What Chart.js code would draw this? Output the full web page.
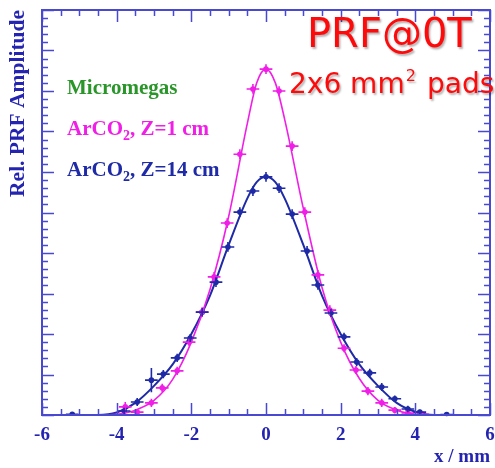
<!DOCTYPE html>
<html>
<head>
<meta charset="utf-8">
<script src="https://cdn.jsdelivr.net/npm/chart.js@4.4.0/dist/chart.umd.min.js"></script>
<style>
  html, body { margin: 0; padding: 0; background: #fff; }
  #grafico { display: block; }
</style>
</head>
<body>
<canvas id="grafico" width="495" height="468"></canvas>
<script>
// pontos medidos - ArCO2, Z = 1 cm
var xRosa = [-3.77, -3.45, -3.07, -2.78, -2.38, -2.06, -1.71, -1.39, -1.04, -0.70, -0.35, 0, 0.35, 0.70, 1.04, 1.39, 1.71, 2.09, 2.41, 2.73, 3.10, 3.45, 3.80, 4.20];
var yRosa = [0.020, 0.007, 0.030, 0.067, 0.109, 0.180, 0.254, 0.341, 0.474, 0.644, 0.805, 0.854, 0.800, 0.664, 0.501, 0.346, 0.259, 0.165, 0.111, 0.059, 0.030, 0.012, 0.005, 0.002];
var eyRosa = [0.012, 0.008, 0.01, 0.01, 0.01, 0.01, 0.012, 0.012, 0.012, 0.012, 0.012, 0.012, 0.012, 0.012, 0.012, 0.012, 0.012, 0.01, 0.01, 0.01, 0.01, 0.008, 0.006, 0.004];

// pontos medidos - ArCO2, Z = 14 cm
var xAzul = [-5.19, -3.80, -3.45, -3.07, -2.75, -2.38, -2.03, -1.71, -1.34, -1.02, -0.70, -0.35, 0, 0.35, 0.70, 1.10, 1.39, 1.74, 2.09, 2.43, 2.78, 3.10, 3.45, 3.80, 4.12, 4.84];
var yAzul = [0.002, 0.010, 0.032, 0.086, 0.101, 0.141, 0.190, 0.254, 0.328, 0.415, 0.501, 0.553, 0.588, 0.560, 0.496, 0.405, 0.321, 0.252, 0.193, 0.131, 0.104, 0.069, 0.040, 0.015, 0.007, 0.001];
var eyAzul = [0.004, 0.008, 0.01, 0.03, 0.01, 0.01, 0.01, 0.01, 0.012, 0.012, 0.012, 0.012, 0.012, 0.012, 0.012, 0.012, 0.012, 0.01, 0.01, 0.01, 0.01, 0.01, 0.008, 0.008, 0.006, 0.004];
var erroX = 0.17;

// curvas ajustadas
var xAjuste = [-6, -4.5, -4, -3.5, -3, -2.5, -2, -1.5, -1, -0.5, -0.25, 0, 0.25, 0.5, 1, 1.5, 2, 2.5, 3, 3.5, 4, 4.5, 6];
var ajusteRosa = [0, 0, 0.002, 0.012, 0.036, 0.088, 0.18, 0.31, 0.49, 0.72, 0.82, 0.854, 0.82, 0.73, 0.51, 0.315, 0.18, 0.09, 0.036, 0.012, 0.002, 0, 0];
var ajusteAzul = [0, 0, 0.006, 0.03, 0.072, 0.125, 0.2, 0.295, 0.42, 0.535, 0.575, 0.588, 0.575, 0.535, 0.42, 0.295, 0.2, 0.125, 0.072, 0.03, 0.008, 0, 0];

var ticksX = [-6, -4, -2, 0, 2, 4, 6];

var corRosa = "#f01ee6";
var corAzul = "#1e2aa6";
var corEixo = "#4848d0";
var corTexto = "#2424b0";

function pares(xs, ys) {
  return xs.map(function (x, i) { return { x: x, y: ys[i] }; });
}

var errosPlugin = {
  id: "erros",
  afterDatasetsDraw: function (chart) {
    var ctx = chart.ctx;
    var sx = chart.scales.x;
    var sy = chart.scales.y;
    chart.data.datasets.forEach(function (ds) {
      if (!ds.erroY) return;
      ctx.save();
      ctx.strokeStyle = ds.borderColor;
      ctx.lineWidth = 1.6;
      ds.data.forEach(function (p, i) {
        var px = sx.getPixelForValue(p.x);
        var py = sy.getPixelForValue(p.y);
        ctx.beginPath();
        ctx.moveTo(sx.getPixelForValue(p.x - erroX), py);
        ctx.lineTo(sx.getPixelForValue(p.x + erroX), py);
        ctx.moveTo(px, sy.getPixelForValue(p.y - ds.erroY[i]));
        ctx.lineTo(px, sy.getPixelForValue(p.y + ds.erroY[i]));
        ctx.stroke();
      });
      ctx.restore();
    });
  }
};

var molduraPlugin = {
  id: "moldura",
  afterDraw: function (chart) {
    var ctx = chart.ctx;
    var a = chart.chartArea;
    var sx = chart.scales.x;
    var sy = chart.scales.y;
    ctx.save();
    ctx.strokeStyle = corEixo;
    ctx.lineWidth = 2;
    ctx.strokeRect(a.left, a.top, a.right - a.left, a.bottom - a.top);
    ctx.lineWidth = 1.5;
    ctx.beginPath();
    for (var i = 0; i <= 24; i++) {
      var v = -6 + i * 0.5;
      var px = Math.round(sx.getPixelForValue(v)) + 0.5;
      var len = (i % 4 == 0) ? 12 : 6;
      ctx.moveTo(px, a.bottom); ctx.lineTo(px, a.bottom - len);
      ctx.moveTo(px, a.top); ctx.lineTo(px, a.top + len);
    }
    for (var k = 0; k <= 50; k++) {
      var py = Math.round(sy.getPixelForValue(k * 0.02)) + 0.5;
      var l = (k % 5 == 0) ? 12 : 6;
      ctx.moveTo(a.left, py); ctx.lineTo(a.left + l, py);
      ctx.moveTo(a.right, py); ctx.lineTo(a.right - l, py);
    }
    ctx.stroke();
    ctx.restore();

    // legenda em texto
    ctx.save();
    ctx.textBaseline = "alphabetic";
    ctx.font = "bold 21px 'Liberation Serif'";
    ctx.fillStyle = "#2a962a";
    ctx.fillText("Micromegas", 67, 94);
    escreverArCO(ctx, "ArCO", ", Z=1 cm", corRosa, 67, 135);
    escreverArCO(ctx, "ArCO", ", Z=14 cm", corAzul, 67, 176);
    ctx.restore();

    // titulo vermelho
    ctx.save();
    ctx.fillStyle = "#ff0a0a";
    ctx.shadowColor = "rgba(0,0,0,0.3)";
    ctx.shadowOffsetX = 1.5;
    ctx.shadowOffsetY = 1.5;
    ctx.shadowBlur = 2;
    ctx.font = "40px 'DejaVu Sans'";
    ctx.fillText("PRF@0T", 307, 47);
    ctx.font = "28px 'DejaVu Sans'";
    var t1 = "2x6 mm";
    ctx.fillText(t1, 289, 93);
    var w1 = ctx.measureText(t1).width;
    ctx.font = "16px 'DejaVu Sans'";
    ctx.fillText("2", 289 + w1 + 1, 81);
    ctx.font = "28px 'DejaVu Sans'";
    ctx.fillText("pads", 427, 93);
    ctx.restore();
  }
};

function escreverArCO(ctx, a, b, cor, x, y) {
  ctx.fillStyle = cor;
  ctx.font = "bold 21px 'Liberation Serif'";
  ctx.fillText(a, x, y);
  var w = ctx.measureText(a).width;
  ctx.font = "bold 14px 'Liberation Serif'";
  ctx.fillText("2", x + w, y + 5);
  var w2 = ctx.measureText("2").width;
  ctx.font = "bold 21px 'Liberation Serif'";
  ctx.fillText(b, x + w + w2, y);
}

function plotarPRF() {
  var grafico = document.getElementById("grafico");

  new Chart(grafico, {
    type: "scatter",
    data: {
      datasets: [
        {
          data: pares(xAjuste, ajusteRosa),
          showLine: true,
          borderColor: corRosa,
          borderWidth: 1.6,
          pointRadius: 0,
          cubicInterpolationMode: "monotone",
        },
        {
          data: pares(xAjuste, ajusteAzul),
          showLine: true,
          borderColor: corAzul,
          borderWidth: 2,
          pointRadius: 0,
          cubicInterpolationMode: "monotone",
        },
        {
          data: pares(xRosa, yRosa),
          erroY: eyRosa,
          borderColor: corRosa,
          backgroundColor: corRosa,
          pointRadius: 2.8,
          borderWidth: 0,
        },
        {
          data: pares(xAzul, yAzul),
          erroY: eyAzul,
          borderColor: corAzul,
          backgroundColor: corAzul,
          pointRadius: 2.8,
          borderWidth: 0,
        },
      ],
    },
    options: {
      responsive: false,
      animation: false,
      devicePixelRatio: 1,
      layout: {
        padding: { left: 0, top: 10, right: 5, bottom: 0 },
      },
      plugins: {
        legend: { display: false },
        tooltip: { enabled: false },
      },
      scales: {
        x: {
          type: "linear",
          min: -6,
          max: 6,
          afterBuildTicks: function (s) {
            s.ticks = ticksX.map(function (v) { return { value: v }; });
          },
          afterFit: function (s) {
            s.height = 53;
            s.paddingLeft = 0;
            s.paddingRight = 0;
          },
          grid: { display: false, drawTicks: false },
          border: { display: false },
          ticks: {
            color: corTexto,
            padding: 9,
            font: { family: "'Liberation Serif'", weight: "bold", size: 19 },
          },
          title: {
            display: true,
            text: "x / mm",
            align: "end",
            color: corTexto,
            padding: { top: 0, bottom: 0 },
            font: { family: "'Liberation Serif'", weight: "bold", size: 19 },
          },
        },
        y: {
          type: "linear",
          min: 0,
          max: 1,
          afterFit: function (s) {
            s.width = 42;
            s.paddingTop = 0;
            s.paddingBottom = 0;
          },
          grid: { display: false, drawTicks: false },
          border: { display: false },
          ticks: { display: false },
          title: {
            display: true,
            text: "Rel. PRF Amplitude",
            align: "end",
            color: corTexto,
            padding: { top: 6, bottom: 0 },
            font: { family: "'Liberation Serif'", weight: "bold", size: 21.5 },
          },
        },
      },
    },
    plugins: [errosPlugin, molduraPlugin],
  });
}

plotarPRF();
</script>
</body>
</html>
